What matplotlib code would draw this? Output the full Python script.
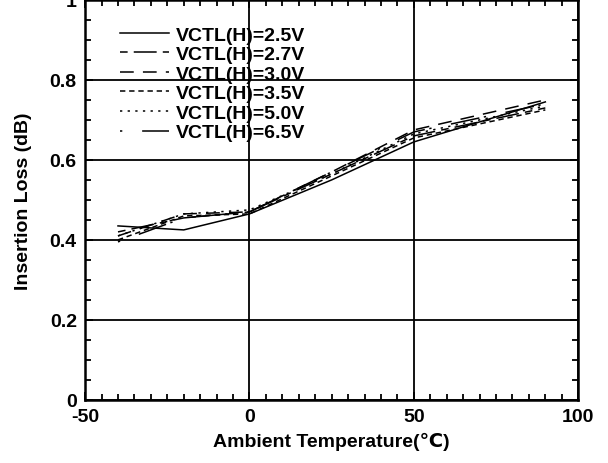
import matplotlib
matplotlib.use("Agg")
import matplotlib.pyplot as plt
from matplotlib.ticker import MultipleLocator

plt.rcParams['font.family'] = ['Liberation Sans', 'DejaVu Sans']
plt.rcParams['font.weight'] = 'bold'
plt.rcParams['axes.unicode_minus'] = False

temps = [-40, -20, 0, 25, 50, 90]
labels = ["VCTL(H)=2.5V", "VCTL(H)=2.7V", "VCTL(H)=3.0V",
          "VCTL(H)=3.5V", "VCTL(H)=5.0V", "VCTL(H)=6.5V"]
loss_25 = [0.435, 0.425, 0.465, 0.550, 0.645, 0.745]
loss_27 = [0.420, 0.455, 0.470, 0.565, 0.660, 0.730]
loss_30 = [0.410, 0.465, 0.470, 0.570, 0.675, 0.750]
loss_35 = [0.400, 0.460, 0.465, 0.560, 0.655, 0.725]
loss_50 = [0.410, 0.465, 0.475, 0.565, 0.665, 0.735]
loss_65 = [0.395, 0.455, 0.470, 0.570, 0.670, 0.740]

series = [loss_25, loss_27, loss_30, loss_35, loss_50, loss_65]
styles = ['-', (0, (5, 4, 15, 4)), (0, (9, 6)), (0, (3.5, 2.5)),
          (0, (1.5, 3.5)), (0, (1.5, 13, 19, 3))]

fig = plt.figure(figsize=(6.08, 4.64), dpi=100)
ax = fig.add_axes([0.14, 0.136, 0.811, 0.862])

for vals, ls, lab in zip(series, styles, labels):
    ax.plot(temps, vals, color='black', linewidth=1.1, linestyle=ls, label=lab)

ax.set_xlim(-50, 100)
ax.set_ylim(0, 1)
ax.xaxis.set_major_locator(MultipleLocator(50))
ax.xaxis.set_minor_locator(MultipleLocator(5))
ax.yaxis.set_major_locator(MultipleLocator(0.2))
ax.yaxis.set_minor_locator(MultipleLocator(0.05))
ax.set_yticks([0, 0.2, 0.4, 0.6, 0.8, 1.0])
ax.set_yticklabels(['0', '0.2', '0.4', '0.6', '0.8', '1'])
ax.tick_params(which='both', direction='in', top=True, right=True,
               labelsize=14, width=1.3, pad=6)
ax.tick_params(which='major', length=6)
ax.tick_params(which='minor', length=4)
ax.grid(True, which='major', color='black', linewidth=1.3)
for s in ax.spines.values():
    s.set_linewidth(1.8)

ax.set_xlabel("Ambient Temperature(℃)", fontsize=14, fontweight='bold', labelpad=5)
ax.set_ylabel("Insertion Loss (dB)", fontsize=14, fontweight='bold', labelpad=13)

leg = ax.legend(loc='upper left', bbox_to_anchor=(0.071, 0.935), frameon=False,
                fontsize=14, handlelength=2.5, handletextpad=0.36,
                labelspacing=0.1, borderpad=0, borderaxespad=0)

fig.savefig("out.png", dpi=100)
